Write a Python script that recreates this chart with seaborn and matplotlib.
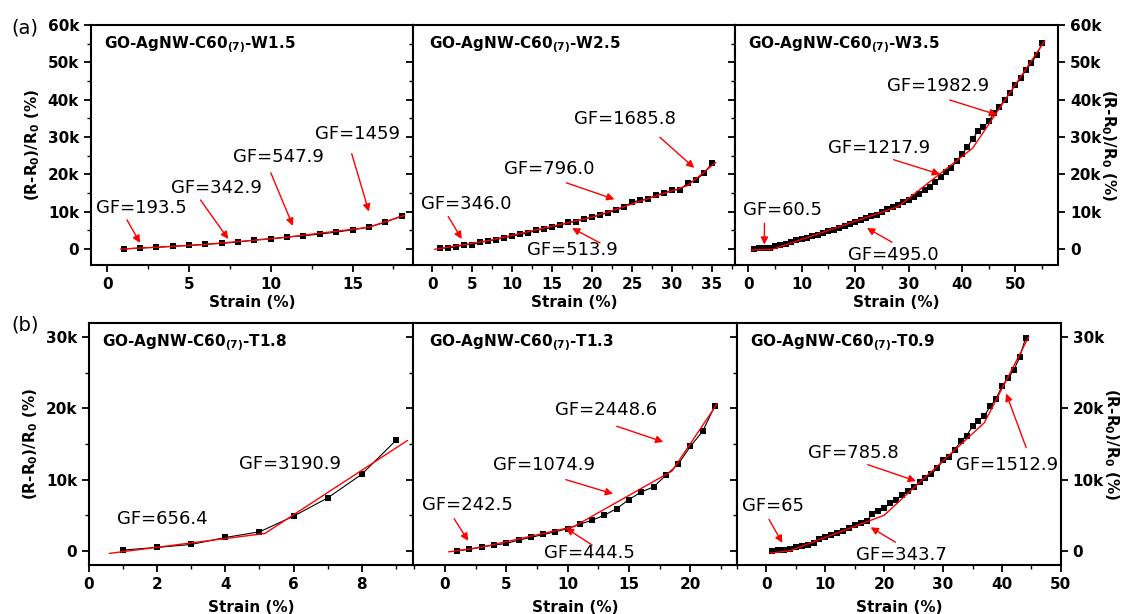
import numpy as np
import pandas as pd
import matplotlib
matplotlib.use('Agg')
import matplotlib.pyplot as plt
from matplotlib.ticker import MultipleLocator, FuncFormatter
import seaborn as sns

sns.set_style('ticks')
plt.rcParams['font.family'] = ['DejaVu Sans']
plt.rcParams['font.weight'] = 'bold'
plt.rcParams['axes.labelweight'] = 'bold'
plt.rcParams['mathtext.fontset'] = 'dejavusans'
plt.rcParams['mathtext.default'] = 'bf'
plt.rcParams['text.color'] = 'black'
plt.rcParams['axes.labelcolor'] = 'black'
plt.rcParams['xtick.color'] = 'black'
plt.rcParams['ytick.color'] = 'black'

# --- values ---
# (a) width series
w15_strain = list(range(1, 19))
w15_resp = [0, 270, 440, 710, 970, 1240, 1500, 1860, 2390, 2740, 3190, 3540,
            3980, 4510, 5130, 5840, 7170, 8850]
w15_fit_x = [0.8, 5.5, 10.5, 16.0, 18.2]
w15_fit_y = [-50, 1050, 2900, 5800, 9000]

w25_strain = list(range(1, 36))
w25_resp = [180, 270, 530, 1150, 1150, 1800, 2100, 2500, 3000, 3400, 3900, 4250,
            5000, 5300, 5750, 6300, 7100, 7300, 8100, 8500, 9100, 9700, 10300,
            11200, 12500, 13100, 13400, 14400, 15000, 15750, 15900, 17700, 18400,
            20300, 22900]
w25_fit_x = [0.3, 7.0, 20.0, 32.0, 35.5]
w25_fit_y = [-100, 2200, 8500, 17000, 23200]

w35_strain = list(range(1, 56))
w35_resp = [100, 150, 180, 270, 700, 1050, 1400, 1900, 2300, 2650, 3000, 3400,
            3800, 4200, 4700, 5100, 5700, 6200, 6700, 7200, 7800, 8200, 8700,
            9100, 10000, 10600, 11300, 11800, 12700, 13100, 13800, 14700, 15900,
            16600, 18000, 19300, 20600, 21800, 23500, 25300, 27300, 29500, 31500,
            32600, 34200, 36300, 38100, 39800, 41900, 43800, 45800, 48000, 49800,
            52000, 55100]
w35_fit_x = [0.5, 4.5, 28.0, 42.0, 55.5]
w35_fit_y = [-300, -100, 11300, 27000, 55700]

# (b) thickness series
t18_strain = list(range(1, 10))
t18_resp = [100, 470, 890, 1870, 2660, 4860, 7430, 10750, 15500]
t18_fit_x = [0.6, 5.16, 9.34]
t18_fit_y = [-370, 2430, 15500]

t13_strain = list(range(1, 23))
t13_resp = [0, 190, 560, 790, 1030, 1500, 1870, 2290, 2660, 3130, 3740, 4300,
            5000, 5930, 7200, 8270, 8970, 10600, 12150, 14670, 16780, 20370]
t13_fit_x = [0.3, 3.0, 10.5, 18.5, 22.2]
t13_fit_y = [-150, 500, 3400, 11200, 20700]

t09_strain = list(range(1, 45))
t09_resp = [0, 90, 140, 240, 470, 710, 850, 1100, 1600, 1900, 2200, 2500, 2800,
            3200, 3600, 3900, 4200, 5100, 5600, 6000, 6700, 7200, 7800, 8400,
            9000, 9600, 10200, 10800, 11600, 12700, 13200, 14200, 15400, 16200,
            17500, 18300, 19000, 20300, 21400, 23100, 24300, 25400, 27200, 29900]
t09_fit_x = [0.6, 4.0, 20.0, 37.0, 44.5]
t09_fit_y = [-330, 0, 5000, 18000, 30000]

titles = ['W1.5', 'W2.5', 'W3.5', 'T1.8', 'T1.3', 'T0.9']

# label text, text centre, arrow tail, arrow tip
notes = {
    'W1.5': [('GF=193.5', (2.1, 10900), (1.2, 7800), (2.0, 1600)),
             ('GF=342.9', (6.7, 16200), (5.7, 13100), (7.4, 2650)),
             ('GF=547.9', (10.45, 24600), (10.0, 20400), (11.35, 6200)),
             ('GF=1459', (15.3, 30800), (14.95, 25500), (16.0, 10000))],
    'W2.5': [('GF=346.0', (4.3, 12000), (2.0, 8700), (3.7, 2650)),
             ('GF=513.9', (17.5, -350), (21.0, 1600), (17.5, 5600)),
             ('GF=796.0', (14.7, 21500), (16.8, 17700), (22.8, 13300)),
             ('GF=1685.8', (24.1, 34800), (28.5, 29900), (32.8, 21700))],
    'W3.5': [('GF=60.5', (6.4, 10300), (3.0, 6900), (3.0, 1150)),
             ('GF=495.0', (27.1, -1500), (26.9, 1800), (22.2, 5600)),
             ('GF=1217.9', (24.5, 27100), (27.2, 23900), (35.9, 20000)),
             ('GF=1982.9', (35.5, 43600), (37.7, 39900), (46.6, 35900))],
    'T1.8': [('GF=656.4', (2.14, 4400), None, None),
             ('GF=3190.9', (5.9, 12200), None, None)],
    'T1.3': [('GF=242.5', (1.8, 6400), (0.75, 4500), (1.9, 1400)),
             ('GF=444.5', (11.8, -370), (12.0, 800), (9.85, 3200)),
             ('GF=1074.9', (8.1, 12100), (9.85, 10000), (13.7, 8000)),
             ('GF=2448.6', (13.1, 19800), (14.0, 17500), (17.8, 15300))],
    'T0.9': [('GF=65', (1.2, 6300), (0.45, 4400), (2.7, 1100)),
             ('GF=343.7', (23.0, -660), (21.9, 1200), (17.7, 3300)),
             ('GF=785.8', (14.7, 13700), (17.2, 12100), (25.4, 9800)),
             ('GF=1512.9', (40.8, 12000), (44.1, 14500), (40.7, 22100))],
}

series = {
    'W1.5': (w15_strain, w15_resp, w15_fit_x, w15_fit_y),
    'W2.5': (w25_strain, w25_resp, w25_fit_x, w25_fit_y),
    'W3.5': (w35_strain, w35_resp, w35_fit_x, w35_fit_y),
    'T1.8': (t18_strain, t18_resp, t18_fit_x, t18_fit_y),
    'T1.3': (t13_strain, t13_resp, t13_fit_x, t13_fit_y),
    'T0.9': (t09_strain, t09_resp, t09_fit_x, t09_fit_y),
}

# layout
rects = [[0.0808, 0.5684, 0.2860, 0.391],
         [0.3668, 0.5684, 0.2860, 0.391],
         [0.6528, 0.5684, 0.2869, 0.391],
         [0.0790, 0.0798, 0.2877, 0.394],
         [0.3668, 0.0798, 0.2877, 0.394],
         [0.6545, 0.0798, 0.2877, 0.394]]
xlims = [(-1.0, 18.7), (-2.4, 37.9), (-2.5, 58), (0, 9.5), (-2.6, 23.8), (-5, 50)]
xmaj = [5, 5, 10, 2, 5, 10]
ylims = [(-4300, 60000)] * 3 + [(-2000, 32000)] * 3
ymaj = [10000] * 3 + [10000] * 3

kfmt = FuncFormatter(lambda v, p: '0' if v == 0 else f'{v / 1000:.0f}k')
ylab = '(R-R$_\\mathbf{0}$)/R$_\\mathbf{0}$ (%)'

fig = plt.figure(figsize=(11.26, 6.14), dpi=100)

for i, key in enumerate(titles):
    ax = fig.add_axes(rects[i])
    x, y, fx, fy = series[key]
    df = pd.DataFrame({'strain': x, 'resp': y})
    sns.lineplot(data=df, x='strain', y='resp', ax=ax, color='black', lw=0.8,
                 marker='s', markersize=4.5 if i in (0, 3) else 4,
                 markeredgewidth=0, estimator=None, sort=False)
    ax.plot(fx, fy, color='red', lw=1.0, zorder=3)

    ax.set_xlim(*xlims[i])
    ax.set_ylim(*ylims[i])
    ax.xaxis.set_major_locator(MultipleLocator(xmaj[i]))
    ax.xaxis.set_minor_locator(MultipleLocator(xmaj[i] / 2))
    ax.yaxis.set_major_locator(MultipleLocator(ymaj[i]))
    ax.yaxis.set_minor_locator(MultipleLocator(ymaj[i] / 2))
    ax.yaxis.set_major_formatter(kfmt)

    for s in ax.spines.values():
        s.set_linewidth(1.5)
        s.set_color('black')

    ax.tick_params(axis='both', which='both', direction='out', colors='black',
                   labelsize=11, top=False)
    ax.tick_params(which='major', length=5, width=1.3)
    ax.tick_params(which='minor', length=3, width=1.0)

    col = i % 3
    if col == 0:
        ax.tick_params(axis='y', left=True, labelleft=True, right=False)
        ax.set_ylabel(ylab, fontsize=11, labelpad=4)
    elif col == 1:
        ax.tick_params(axis='y', left=True, labelleft=False, right=False)
        ax.set_ylabel('')
    else:
        ax.tick_params(axis='y', left=True, labelleft=False, right=True,
                       labelright=True)
        ax.yaxis.set_label_position('right')
        ax.set_ylabel(ylab, fontsize=11, rotation=270, labelpad=12)

    ax.set_xlabel('Strain (%)', fontsize=11, labelpad=2 if i < 3 else 6)

    ax.text(0.04 if col != 1 else 0.05, 0.915,
            'GO-AgNW-C60$_{\\mathbf{(7)}}$-' + key, transform=ax.transAxes,
            fontsize=11, fontweight='bold', ha='left', va='center')

    for label, tpos, tail, tip in notes[key]:
        ax.text(tpos[0], tpos[1], label, fontsize=13, fontweight='normal',
                ha='center', va='center', zorder=5)
        if tail is not None:
            ax.annotate('', xy=tip, xytext=tail,
                        arrowprops=dict(arrowstyle='-|>', color='red', lw=1.0,
                                        mutation_scale=11, shrinkA=0, shrinkB=0),
                        zorder=5)

fig.text(0.010, 0.954, '(a)', fontsize=14, fontweight='normal', va='center')
fig.text(0.010, 0.471, '(b)', fontsize=14, fontweight='normal', va='center')

fig.savefig('out.png', dpi=100)
